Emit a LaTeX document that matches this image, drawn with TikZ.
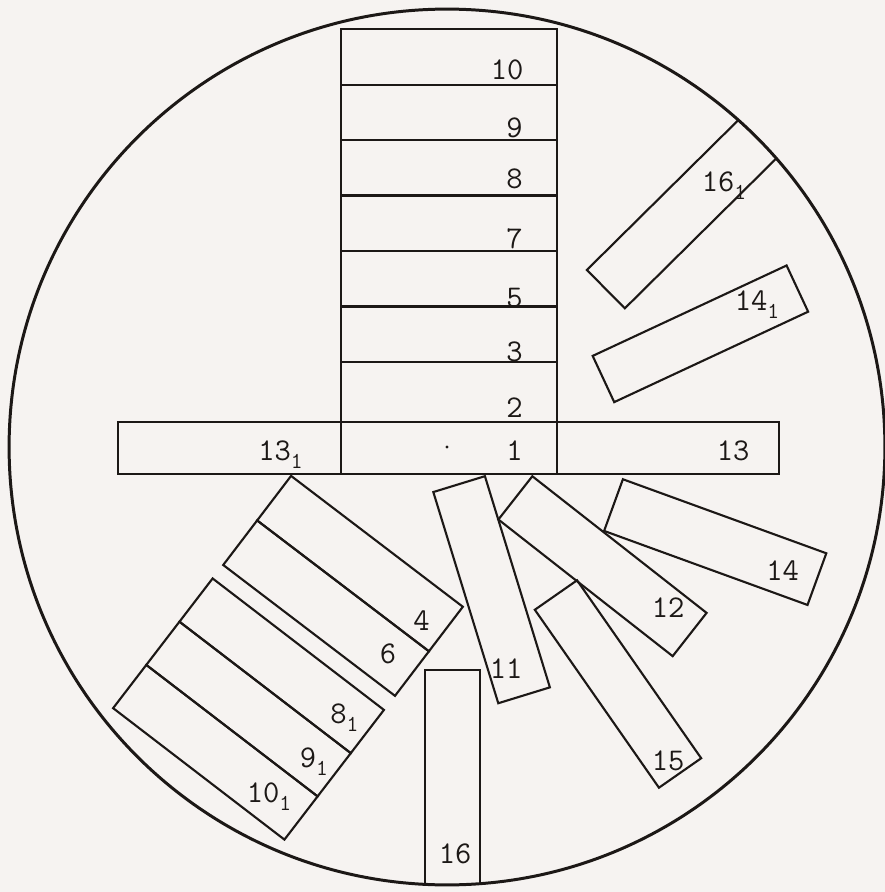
\documentclass[tikz,border=0pt]{standalone}
\usepackage{xcolor}
\definecolor{paper}{RGB}{246,243,241}
\definecolor{ink}{RGB}{28,24,22}
\usepackage{tikz}
\usetikzlibrary{positioning}
\newcommand{\subone}{\raisebox{-5pt}{\fontsize{13}{13}\selectfont 1}}

\begin{document}
\begin{tikzpicture}[x=0.02cm, y=-0.02cm, node distance=0pt,
  slab/.style={draw=ink, line width=1.2pt, inner sep=0pt, outer sep=0pt,
               minimum width=4.32cm, minimum height=1.11cm},
  tag/.style={anchor=base west, inner sep=0pt, text=ink,
              font=\fontsize{18}{21}\selectfont\ttfamily}]
  \fill[paper] (0,0) rectangle (885,892);
  \useasboundingbox (0,0) rectangle (885,892);
  \coordinate (ctr) at (447,447);

  \node[slab, minimum height=1.04cm] (c1) at (449,448) {};
  \node[slab, minimum width=4.46cm, minimum height=1.04cm, left=of c1] (c13a) {};
  \node[slab, minimum width=4.44cm, minimum height=1.04cm, right=of c1] (c13) {};
  \node[slab, minimum height=1.2cm, above=of c1] (c2) {};
  \node[slab, above=of c2] (c3) {};
  \node[slab, above=of c3] (c5) {};
  \node[slab, above=of c5] (c7) {};
  \node[slab, above=of c7] (c8) {};
  \node[slab, above=of c8] (c9) {};
  \node[slab, above=of c9] (c10) {};

  \node[slab, minimum height=1.12cm, rotate=-37.3] (s4) at (360,563.6) {};
  \node[slab, minimum height=1.12cm, rotate=-37.3, below=of s4] (s6) {};
  \node[slab, minimum height=1.09cm, rotate=-37.5] (s8a) at (281.7,665.8) {};
  \node[slab, minimum height=1.09cm, rotate=-37.5, below=of s8a] (s9a) {};
  \node[slab, minimum height=1.09cm, rotate=-37.5, below=of s9a] (s10a) {};

  \node[slab, minimum width=4.42cm, minimum height=1.08cm, rotate=-72.9] (s11) at (491.6,589.7) {};
  \node[slab, minimum width=4.43cm, minimum height=1.1cm, rotate=-38.1] (s12) at (602.5,566.2) {};
  \node[slab, minimum width=4.33cm, minimum height=1.1cm, rotate=-20] (s14) at (715.2,542.1) {};
  \node[slab, minimum width=4.34cm, minimum height=1.03cm, rotate=-55.1] (s15) at (618,684) {};
  \node[slab, minimum width=4.28cm, minimum height=1.02cm, rotate=25] (s14a) at (700.4,333.8) {};

  \begin{scope}
    \clip (ctr) circle[radius=8.76cm];
    \node[slab, minimum width=4.36cm, minimum height=1.08cm, rotate=44.7] (s16a) at (683.3,212.5) {};
    \node[slab, minimum width=4.36cm, minimum height=1.1cm, rotate=90] (s16) at (452.5,779) {};
  \end{scope}

  \draw[ink, line width=1.7pt] (ctr) circle[radius=8.76cm];
  \fill[ink] (ctr) circle[radius=0.9pt];

  \node[tag] (l10) at (490.5,80) {10};
  \node[tag] (l9) at (506,137) {9};
  \node[tag] (l8) at (506,188) {8};
  \node[tag] (l7) at (506,248) {7};
  \node[tag] (l5) at (506,307) {5};
  \node[tag] (l3) at (506,361) {3};
  \node[tag] (l2) at (506,417) {2};
  \node[tag] (l1) at (506,460) {1};
  \node[tag] (l13a) at (258,460) {13\subone};
  \node[tag] (l13) at (716.5,460) {13};
  \node[tag] (l4) at (413,630) {4};
  \node[tag] (l6) at (379.5,663) {6};
  \node[tag] (l8a) at (330,723) {8\subone};
  \node[tag] (l9a) at (299.5,767) {9\subone};
  \node[tag] (l10a) at (246.5,802) {10\subone};
  \node[tag] (l11) at (489.5,678) {11};
  \node[tag] (l12) at (651.5,617) {12};
  \node[tag] (l14) at (766,580) {14};
  \node[tag] (l15) at (651.5,770) {15};
  \node[tag] (l16) at (438.5,863) {16};
  \node[tag] (l14a) at (734.5,310) {14\subone};
  \node[tag] (l16a) at (701.5,191) {16\subone};
\end{tikzpicture}
\end{document}
